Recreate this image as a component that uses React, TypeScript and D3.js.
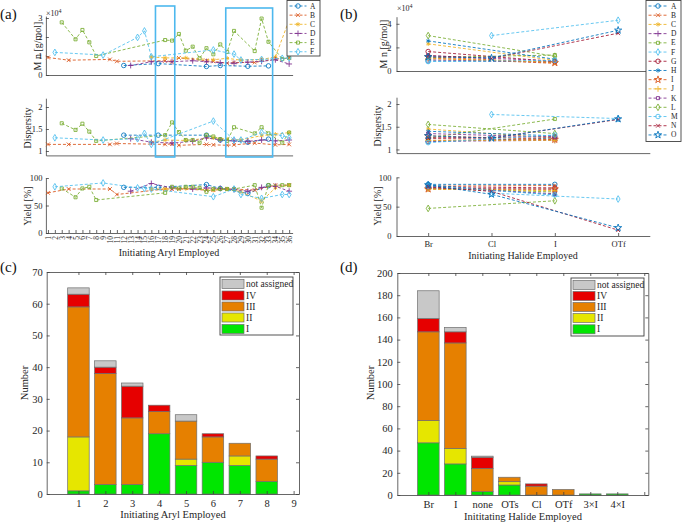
import { useEffect, useRef } from 'react'
import * as d3 from 'd3'

const W = 682
const H = 523
const FONT = '"Liberation Serif", "Times New Roman", Times, serif'
const INK = '#262626'
const AX = '#404040'

// MATLAB default line colours
const LINE_COLORS = ['#0072BD', '#D95319', '#EDB120', '#7E2F8E', '#77AC30', '#4DBEEE', '#A2142F']

// ── (a) initiating aryl screen ────────────────────────────────────────────────
const arylLabels = ['1', '2', '3', '4', '5', '6', '7', '8', '9', '10', '11', '12', '13', '14', '15', '16', '17', '18',
  '19', '20', '21', '22', '23', '24', '25', '26', '27', '28', '29', '30', '31', '32', '33', '34', '35', '36']
const aNames = ['A', 'B', 'C', 'D', 'E', 'F']
const aMarkers = ['o', 'x', '*', '+', 's', 'd']
const aIdx = [
  [12, 17, 24, 26, 30, 33],
  [1, 4, 10, 11, 18, 19, 20, 24, 25, 27, 28, 31, 34, 36],
  [16, 18, 21, 25, 27, 29, 32, 34, 36],
  [13, 16, 19, 22, 24, 26, 28, 30, 32, 34, 36],
  [3, 5, 6, 7, 8, 18, 19, 20, 21, 22, 23, 24, 25, 26, 27, 28, 31, 32, 33, 35, 36],
  [2, 9, 14, 15, 16, 25, 28, 29, 32, 35, 36],
]
const aMn = [
  [0.5, 0.6, 0.45, 0.5, 0.46, 0.48],
  [0.92, 0.78, 0.82, 0.72, 0.75, 0.7, 0.9, 0.75, 0.72, 0.62, 0.66, 0.66, 0.85, 0.9],
  [0.95, 0.9, 0.9, 0.8, 0.88, 0.78, 0.82, 0.95, 2.9],
  [0.5, 0.7, 0.7, 0.75, 0.7, 0.65, 0.62, 0.68, 0.72, 0.8, 0.58],
  [2.77, 1.88, 2.37, 1.72, 1.0, 1.84, 1.81, 2.16, 1.28, 1.49, 0.88, 1.41, 1.09, 1.61, 1.21, 2.32, 1.26, 2.97, 1.75, 0.84, 0.9],
  [1.19, 1.05, 1.98, 2.32, 0.96, 1.32, 1.1, 0.79, 0.82, 0.88, 0.9],
]
const aDisp = [
  [1.36, 1.36, 1.36, 1.25, 1.2, 1.27],
  [1.15, 1.15, 1.15, 1.17, 1.15, 1.16, 1.13, 1.15, 1.14, 1.13, 1.14, 1.18, 1.14, 1.15],
  [1.2, 1.25, 1.24, 1.3, 1.27, 1.25, 1.35, 1.38, 1.42],
  [1.28, 1.2, 1.18, 1.22, 1.3, 1.25, 1.23, 1.22, 1.25, 1.23, 1.25],
  [1.63, 1.48, 1.62, 1.44, 1.23, 1.36, 1.65, 1.43, 1.25, 1.25, 1.19, 1.36, 1.33, 1.27, 1.23, 1.54, 1.4, 1.54, 1.4, 1.19, 1.42],
  [1.3, 1.25, 1.28, 1.4, 1.15, 1.68, 1.25, 1.25, 1.42, 1.35, 1.3],
]
const aYield = [
  [83, 83, 88, 81, 72, 86],
  [73, 80, 80, 70, 80, 80, 80, 78, 78, 80, 80, 78, 87, 87],
  [80, 80, 81, 78, 80, 75, 58, 82, 87],
  [76, 90, 82, 80, 82, 81, 79, 76, 83, 85, 76],
  [81, 65, 81, 84, 60, 73, 84, 81, 84, 84, 82, 75, 80, 80, 80, 80, 87, 46, 87, 87, 87],
  [84, 91, 82, 81, 80, 66, 80, 70, 63, 70, 70],
]
// highlighted aryl windows (in category units)
const aHighlight = [[16.6, 19.4], [26.8, 33.6]]

// ── (b) initiating halide screen ──────────────────────────────────────────────
const halides = ['Br', 'Cl', 'I', 'OTf']
const bNames = ['A', 'B', 'C', 'D', 'E', 'F', 'G', 'H', 'I', 'J', 'K', 'L', 'M', 'N', 'O']
const bMarkers = ['o', 'x', '*', '+', 's', 'd', 'o', '*', 'p', '+', 's', 'd', 'o', 'x', 'p']
const bMn = [
  [0.85, null, 0.8, null], [1.1, null, 0.65, null], [2.3, null, 0.9, null], [0.95, null, 0.75, null],
  [1.15, null, 1.35, null], [null, 3.0, null, 4.3], [1.65, null, 0.8, null], [2.55, null, 1.0, null],
  [1.2, null, 0.7, null], [1.05, null, 0.75, null], [1.3, null, 0.85, null], [3.0, null, 1.25, null],
  [0.8, null, 0.9, null], [1.3, 1.07, null, 3.2], [1.2, 1.1, null, 3.45],
]
const bDisp = [
  [1.17, null, 1.25, null], [1.2, null, 1.22, null], [1.45, null, 1.25, null], [1.18, null, 1.2, null],
  [1.25, null, 1.67, null], [null, 1.77, null, 1.68], [1.25, null, 1.28, null], [1.4, null, 1.3, null],
  [1.3, null, 1.22, null], [1.2, null, 1.2, null], [1.35, null, 1.27, null], [1.55, null, 1.35, null],
  [1.15, null, 1.32, null], [1.25, 1.25, null, 1.66], [1.3, 1.25, null, 1.67],
]
const bYield = [
  [88, null, 88, null], [85, null, 86, null], [80, null, 78, null], [81, null, 80, null],
  [81, null, 75, null], [null, 73, null, 63], [84, null, 82, null], [87, null, 70, null],
  [80, null, 80, null], [80, null, 77, null], [83, null, 72, null], [47, null, 60, null],
  [85, null, 70, null], [84, 76, null, 10], [87, 71, null, 14],
]

// ── (c) / (d) dispersity class counts ─────────────────────────────────────────
const classNames = ['I', 'II', 'III', 'IV', 'not assigned']
const BAR_COLORS = ['#00e600', '#e6e600', '#e68000', '#e60000', '#c8c8c8']

const cCats = ['1', '2', '3', '4', '5', '6', '7', '8', '9']
const cI = [1, 3, 3, 19, 9, 10, 9, 4, 0]
const cII = [17, 0, 0, 0, 2, 0, 3, 0, 0]
const cIII = [41, 35, 21, 7, 12, 8, 4, 7, 0]
const cIV = [4, 2, 10, 2, 0, 1, 0, 1, 0]
const cNA = [2, 2, 1, 0, 2, 0, 0, 0, 0]

const dCats = ['Br', 'I', 'none', 'OTs', 'Cl', 'OTf', '3×I', '4×I']
const dI = [47, 28, 3, 9, 0, 0, 1, 1]
const dII = [20, 14, 0, 3, 0, 0, 0, 0]
const dIII = [80, 95, 21, 4, 8, 5, 0, 0]
const dIV = [12, 10, 10, 0, 2, 0, 0, 0]
const dNA = [25, 4, 1, 0, 0, 0, 0, 0]

const SYM: Record<string, d3.SymbolType> = {
  o: d3.symbolCircle,
  x: d3.symbolX,
  '*': d3.symbolAsterisk,
  '+': d3.symbolPlus,
  s: d3.symbolSquare2,
  d: d3.symbolDiamond,
  p: d3.symbolStar,
}
const SYM_SIZE: Record<string, number> = { o: 16, x: 11, '*': 13, '+': 13, s: 12, d: 13, p: 16 }

type Sel = d3.Selection<any, any, any, any>

function styleAxis(g: Sel, fs: number) {
  g.attr('font-family', FONT).attr('font-size', fs)
  g.select('.domain').attr('stroke', AX).attr('stroke-width', 0.8)
  g.selectAll('.tick line').attr('stroke', AX).attr('stroke-width', 0.8)
  g.selectAll('.tick text').attr('fill', INK)
}

function marker(g: Sel, m: string, cx: number, cy: number, color: string) {
  g.append('path')
    .attr('transform', `translate(${cx},${cy})`)
    .attr('d', d3.symbol(SYM[m], SYM_SIZE[m])()!)
    .attr('fill', 'none').attr('stroke', color).attr('stroke-width', 0.85)
}

function drawSeries(g: Sel, xs: number[], ys: (number | null)[], x: any, y: any, color: string, m: string) {
  const pts = xs.map((xi, i) => [xi, ys[i]] as [number, number | null])
    .filter(p => p[1] != null) as [number, number][]
  g.append('path')
    .datum(pts)
    .attr('d', d3.line<[number, number]>().x(p => x(p[0])).y(p => y(p[1])))
    .attr('fill', 'none').attr('stroke', color).attr('stroke-width', 0.85).attr('stroke-dasharray', '3,2')
  pts.forEach(p => marker(g, m, x(p[0]), y(p[1]), color))
}

function yLabel(svg: Sel, text: string, cx: number, cy: number, fs: number) {
  svg.append('text')
    .attr('transform', `translate(${cx},${cy}) rotate(-90)`)
    .attr('text-anchor', 'middle').attr('dominant-baseline', 'central')
    .attr('font-family', FONT).attr('font-size', fs).attr('fill', INK)
    .text(text)
}

function xLabel(svg: Sel, text: string, cx: number, by: number, fs: number) {
  svg.append('text')
    .attr('x', cx).attr('y', by).attr('text-anchor', 'middle')
    .attr('font-family', FONT).attr('font-size', fs).attr('fill', INK)
    .text(text)
}

function panelTag(svg: Sel, text: string, x: number, y: number) {
  svg.append('text').attr('x', x).attr('y', y)
    .attr('font-family', FONT).attr('font-size', 15).attr('fill', '#111').text(text)
}

function exponent(svg: Sel, x: number, y: number) {
  const t = svg.append('text').attr('x', x).attr('y', y)
    .attr('font-family', FONT).attr('font-size', 8).attr('fill', INK)
  t.append('tspan').text('×10')
  t.append('tspan').attr('dy', -3).attr('font-size', 6).text('4')
}

// left + bottom axis line subplot (box off, inward ticks)
function lineAxes(svg: Sel, x: any, y: any, yTicks: number[], yFmt: (d: number) => string, pad: number) {
  const [x0] = x.range()
  const [y0] = y.range()
  svg.append('g').attr('transform', `translate(0,${y0})`)
    .call(d3.axisBottom(x).tickValues([]).tickSizeOuter(0))
    .call(g => styleAxis(g, 8.5))
  svg.append('g').attr('transform', `translate(${x0},0)`)
    .call(d3.axisLeft(y).tickValues(yTicks).tickFormat(d => yFmt(+d)).tickSize(-3).tickSizeOuter(0).tickPadding(pad))
    .call(g => styleAxis(g, 8.5))
}

function stackedBars(svg: Sel, x: any, y: any, cols: number[][]) {
  const rows = cols[0].map((_, i) => {
    const r: Record<string, number> = {}
    classNames.forEach((k, j) => { r[k] = cols[j][i] })
    return r
  })
  const stacked = d3.stack<Record<string, number>>().keys(classNames)(rows)
  const bw = x(0.8) - x(0)
  stacked.forEach((s, k) => {
    s.forEach((d, i) => {
      if (d[1] <= d[0]) return
      svg.append('rect')
        .attr('x', x(i + 1) - bw / 2).attr('width', bw)
        .attr('y', y(d[1])).attr('height', y(d[0]) - y(d[1]))
        .attr('fill', BAR_COLORS[k])
        .attr('stroke', '#6e6e6e').attr('stroke-width', 0.7)
    })
  })
}

function boxAxes(svg: Sel, x: any, y: any, nTicks: number, cats: string[], yTicks: number[], xPad: number, yPad: number) {
  const [x0, x1] = x.range()
  const [y0, y1] = y.range()
  const xt = d3.range(1, nTicks + 1)
  svg.append('g').attr('transform', `translate(0,${y0})`)
    .call(d3.axisBottom(x).tickValues(xt).tickFormat(d => cats[+d - 1] ?? '').tickSize(-3).tickSizeOuter(0).tickPadding(xPad))
    .call(g => styleAxis(g, 10.5))
  svg.append('g').attr('transform', `translate(0,${y1})`)
    .call(d3.axisTop(x).tickValues(xt).tickFormat(() => '').tickSize(-3).tickSizeOuter(0))
    .call(g => styleAxis(g, 10.5))
  svg.append('g').attr('transform', `translate(${x0},0)`)
    .call(d3.axisLeft(y).tickValues(yTicks).tickSize(-3).tickSizeOuter(0).tickPadding(yPad))
    .call(g => styleAxis(g, 10.5))
  svg.append('g').attr('transform', `translate(${x1},0)`)
    .call(d3.axisRight(y).tickValues(yTicks).tickFormat(() => '').tickSize(-3).tickSizeOuter(0))
    .call(g => styleAxis(g, 10.5))
}

function barLegend(svg: Sel, x0: number, y0: number, x1: number, y1: number, rowY: number[]) {
  svg.append('rect').attr('x', x0).attr('y', y0).attr('width', x1 - x0).attr('height', y1 - y0)
    .attr('fill', '#fff').attr('stroke', AX).attr('stroke-width', 0.9)
  const order = [4, 3, 2, 1, 0]
  order.forEach((k, i) => {
    svg.append('rect').attr('x', x0 + 2).attr('y', rowY[i] - 4.5).attr('width', 22).attr('height', 9)
      .attr('fill', BAR_COLORS[k]).attr('stroke', '#6e6e6e').attr('stroke-width', 0.7)
    svg.append('text').attr('x', x0 + 26).attr('y', rowY[i]).attr('dominant-baseline', 'central')
      .attr('font-family', FONT).attr('font-size', 9.5).attr('fill', INK).text(classNames[k])
  })
}

function lineLegend(svg: Sel, box: number[], names: string[], markers: string[], lx: number[], tx: number, top: number, dy: number) {
  svg.append('rect').attr('x', box[0]).attr('y', box[1]).attr('width', box[2] - box[0]).attr('height', box[3] - box[1])
    .attr('fill', '#fff').attr('stroke', AX).attr('stroke-width', 0.9)
  names.forEach((n, i) => {
    const yy = top + i * dy
    const c = LINE_COLORS[i % LINE_COLORS.length]
    svg.append('line').attr('x1', lx[0]).attr('x2', lx[1]).attr('y1', yy).attr('y2', yy)
      .attr('stroke', c).attr('stroke-width', 0.85).attr('stroke-dasharray', '3,2')
    marker(svg, markers[i], (lx[0] + lx[1]) / 2, yy, c)
    svg.append('text').attr('x', tx).attr('y', yy).attr('dominant-baseline', 'central')
      .attr('font-family', FONT).attr('font-size', 7.5).attr('fill', INK).text(n)
  })
}

export default function App() {
  const ref = useRef<SVGSVGElement>(null)

  useEffect(() => {
    document.body.style.margin = '0'
    const svg = d3.select(ref.current!)
    svg.selectAll('*').remove()

    // ── Panel (a) ───────────────────────────────────────────────────────────
    const xa = d3.scaleLinear([0.7, 36.5], [45.9, 292.6])
    const yaMn = d3.scaleLinear([0, 3.1], [75, 16.1])
    const yaD = d3.scaleLinear([0.9, 2.2], [155.4, 98.2])
    const yaY = d3.scaleLinear([0, 100], [233, 178])

    lineAxes(svg, xa, yaMn, [0, 1, 2, 3], d => `${d}`, 3.5)
    lineAxes(svg, xa, yaD, [1, 1.5, 2], d => `${d}`, 3.5)
    svg.append('g').attr('transform', `translate(${xa.range()[0]},0)`)
      .call(d3.axisLeft(yaY).tickValues([0, 50, 100]).tickSize(-3).tickSizeOuter(0).tickPadding(3.5))
      .call(g => styleAxis(g, 8.5))
    svg.append('g').attr('transform', `translate(0,${yaY.range()[0]})`)
      .call(d3.axisBottom(xa).tickValues(arylLabels.map((_, i) => i + 1))
        .tickFormat(d => arylLabels[+d - 1]).tickSize(-3).tickSizeOuter(0))
      .call(g => styleAxis(g, 7.5))
      .call(g => g.selectAll('.tick text')
        .attr('transform', 'rotate(-90)').attr('text-anchor', 'end')
        .attr('x', -3).attr('y', 0).attr('dy', '0.33em'))

    aNames.forEach((_, s) => {
      const c = LINE_COLORS[s]
      drawSeries(svg, aIdx[s], aMn[s], xa, yaMn, c, aMarkers[s])
      drawSeries(svg, aIdx[s], aDisp[s], xa, yaD, c, aMarkers[s])
      drawSeries(svg, aIdx[s], aYield[s], xa, yaY, c, aMarkers[s])
    })

    aHighlight.forEach(([a, b], i) => {
      const top = i === 0 ? 6 : 8
      svg.append('rect')
        .attr('x', xa(a)).attr('width', xa(b) - xa(a))
        .attr('y', top).attr('height', 157 - top)
        .attr('fill', 'none').attr('stroke', '#4db8ee').attr('stroke-width', 1.6)
    })

    exponent(svg, 46, 15.5)
    yLabel(svg, 'M n  [g/mol]', 37.5, 46, 10)
    yLabel(svg, 'Dispersity', 27.5, 128, 10)
    yLabel(svg, 'Yield [%]', 27.5, 206, 10)
    xLabel(svg, 'Initiating Aryl Employed', 169, 256, 10)
    lineLegend(svg, [287, 0.5, 320, 56], aNames, aMarkers, [289.5, 306.5], 310, 6, 9.15)
    panelTag(svg, '(a)', 0, 19)

    // ── Panel (b) ───────────────────────────────────────────────────────────
    const xb = d3.scaleLinear([0.5, 4.5], [396.5, 649.8])
    const ybMn = d3.scaleLinear([0, 4.6], [71, 16.7])
    const ybD = d3.scaleLinear([0.92, 2.15], [153.1, 97.2])
    const ybY = d3.scaleLinear([0, 100], [236, 177.3])
    const hx = halides.map((_, i) => i + 1)

    lineAxes(svg, xb, ybMn, [0, 2, 4], d => `${d}`, 5)
    lineAxes(svg, xb, ybD, [1, 1.5, 2], d => `${d}`, 5)
    svg.append('g').attr('transform', `translate(${xb.range()[0]},0)`)
      .call(d3.axisLeft(ybY).tickValues([0, 50, 100]).tickSize(-3).tickSizeOuter(0).tickPadding(5))
      .call(g => styleAxis(g, 8.5))
    svg.append('g').attr('transform', `translate(0,${ybY.range()[0]})`)
      .call(d3.axisBottom(xb).tickValues(hx).tickFormat(d => halides[+d - 1]).tickSize(-3).tickSizeOuter(0).tickPadding(5))
      .call(g => styleAxis(g, 8.5))

    bNames.forEach((_, s) => {
      const c = LINE_COLORS[s % LINE_COLORS.length]
      drawSeries(svg, hx, bMn[s], xb, ybMn, c, bMarkers[s])
      drawSeries(svg, hx, bDisp[s], xb, ybD, c, bMarkers[s])
      drawSeries(svg, hx, bYield[s], xb, ybY, c, bMarkers[s])
    })

    exponent(svg, 397, 11)
    yLabel(svg, 'M n  [g/mol]', 383, 44, 10)
    yLabel(svg, 'Dispersity', 377, 126, 10)
    yLabel(svg, 'Yield [%]', 377, 206, 10)
    xLabel(svg, 'Initiating Halide Employed', 523, 258.5, 10)
    lineLegend(svg, [646, 0.5, 681, 141.5], bNames, bMarkers, [648.5, 667.5], 671, 6, 9.21)
    panelTag(svg, '(b)', 340, 19)

    // ── Panel (c) ───────────────────────────────────────────────────────────
    const xc = d3.scaleLinear([-0.18, 9.2], [46.7, 299])
    const yc = d3.scaleLinear([0, 70], [494, 272])
    stackedBars(svg, xc, yc, [cI, cII, cIII, cIV, cNA])
    boxAxes(svg, xc, yc, 9, cCats, d3.range(0, 71, 10), 5.5, 4)
    barLegend(svg, 220, 277, 293, 335, [284, 295.5, 306.5, 317.5, 329])
    yLabel(svg, 'Number', 24.5, 383, 10.5)
    xLabel(svg, 'Initiating Aryl Employed', 173, 518, 10.5)
    panelTag(svg, '(c)', 0, 272)

    // ── Panel (d) ───────────────────────────────────────────────────────────
    const xd = d3.scaleLinear([-0.15, 9.15], [397.3, 648.3])
    const yd = d3.scaleLinear([0, 200], [495, 273])
    stackedBars(svg, xd, yd, [dI, dII, dIII, dIV, dNA])
    boxAxes(svg, xd, yd, 9, dCats, d3.range(0, 201, 20), 6, 4.6)
    barLegend(svg, 571, 278, 644, 336, [285, 296, 307, 318, 329.3])
    yLabel(svg, 'Number', 370, 383, 10.5)
    xLabel(svg, 'Inititating Halide Employed', 523, 520, 10.5)
    panelTag(svg, '(d)', 340, 272)
  }, [])

  return <svg ref={ref} width={W} height={H} style={{ display: 'block', background: '#fff' }} />
}
